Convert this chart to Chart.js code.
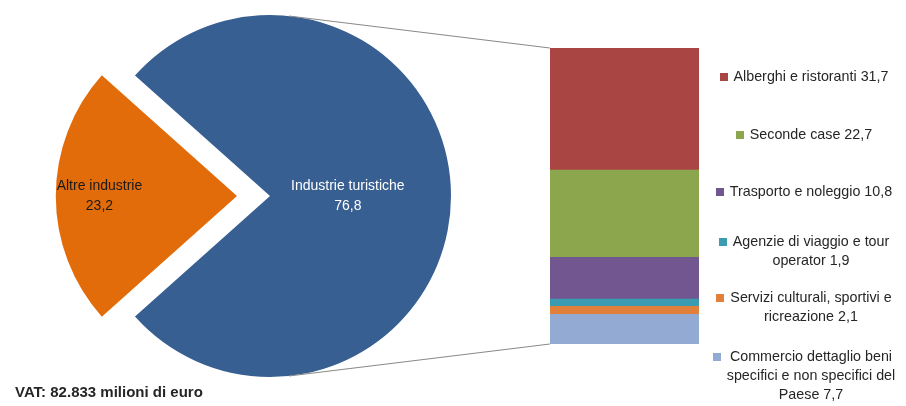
<!DOCTYPE html>
<html>
<head>
<meta charset="utf-8">
<script src="https://cdn.jsdelivr.net/npm/chart.js@4.4.1/dist/chart.umd.min.js"></script>
<style>
  body { margin: 0; background: #fff; font-family: "Liberation Sans", Arial, sans-serif; }
  #wrap { position: relative; width: 906px; height: 406px; overflow: hidden; }
  #pieChart { position: absolute; left: 0; top: 0; }
  #barChart { position: absolute; left: 550px; top: 48px; }
  #vat { position: absolute; left: 15px; top: 383px; font-weight: bold; font-size: 15px; color: #262626; }
  .item { position: absolute; left: 707px; width: 194px; display: flex; justify-content: center; align-items: flex-start;
          font-size: 14.3px; line-height: 19px; color: #262626; }
  .sw { width: 8px; height: 8px; margin: 6px 6px 0 0; flex: none; }
  .txt { text-align: center; white-space: nowrap; }
  .item:nth-of-type(1) { top: 67px; }
  .item:nth-of-type(2) { top: 125px; }
  .item:nth-of-type(3) { top: 182px; }
  .item:nth-of-type(4) { top: 232px; }
  .item:nth-of-type(5) { top: 288px; }
  .item:nth-of-type(6) { top: 347px; }
</style>
</head>
<body>
<div id="wrap">
  <canvas id="pieChart" width="906" height="406"></canvas>
  <canvas id="barChart" width="149" height="296"></canvas>
  <div id="legend"></div>
  <div id="vat">VAT: 82.833 milioni di euro</div>
</div>
<script>
// pie: share of value added (%)
const PIE_LABELS = ['Altre industrie', 'Industrie turistiche'];
const PIE_VALUES = [23.2, 76.8];
const PIE_COLORS = ['#E36C0A', '#375F92'];
const PIE_TEXT = ['#1a1a1a', '#ffffff'];

// breakdown of tourism industries, top to bottom as in the legend
const BREAKDOWN_LABELS = [
  ['Alberghi e ristoranti'],
  ['Seconde case'],
  ['Trasporto e noleggio'],
  ['Agenzie di viaggio e tour', 'operator'],
  ['Servizi culturali, sportivi e', 'ricreazione'],
  ['Commercio dettaglio beni', 'specifici e non specifici del', 'Paese'],
];
const BREAKDOWN_VALUES = [31.7, 22.7, 10.8, 1.9, 2.1, 7.7];
const BREAKDOWN_COLORS = ['#A94543', '#8BA64D', '#71568F', '#3A9BB1', '#E0803A', '#93AAD3'];

const fmt = (v) => v.toFixed(1).replace('.', ',');
const sum = (a) => a.reduce((s, v) => s + v, 0);

// legend (html, multi-line centred like the original)
const legendEl = document.getElementById('legend');
BREAKDOWN_LABELS.forEach((lines, i) => {
  const item = document.createElement('div');
  item.className = 'item';
  const text = lines.slice(0, -1).concat(lines[lines.length - 1] + ' ' + fmt(BREAKDOWN_VALUES[i]));
  item.innerHTML = `<span class="sw" style="background:${BREAKDOWN_COLORS[i]}"></span><span class="txt">${text.join('<br>')}</span>`;
  legendEl.appendChild(item);
});

// stacked bar: first dataset sits at the bottom, so reverse the legend order
const order = BREAKDOWN_VALUES.map((_, i) => i).reverse();
const barChart = new Chart(document.getElementById('barChart'), {
  type: 'bar',
  data: {
    labels: [''],
    datasets: order.map((i) => ({
      label: BREAKDOWN_LABELS[i].join(' '),
      data: [BREAKDOWN_VALUES[i]],
      backgroundColor: BREAKDOWN_COLORS[i],
      borderWidth: 0,
      barPercentage: 1,
      categoryPercentage: 1,
    })),
  },
  options: {
    responsive: false,
    animation: false,
    events: [],
    layout: { padding: 0 },
    plugins: { legend: { display: false }, tooltip: { enabled: false } },
    scales: {
      x: { stacked: true, display: false },
      y: { stacked: true, display: false, min: 0, max: sum(BREAKDOWN_VALUES) },
    },
  },
});

// explode distance in px; ArcElement only moves a slice by offset / 4
const EXPLODE = 33;
const LABEL_DIST = [0.76, 0.43];
const pieLabels = {
  id: 'pieLabels',
  afterDatasetsDraw(chart) {
    const ctx = chart.ctx;
    chart.getDatasetMeta(0).data.forEach((arc, i) => {
      const mid = (arc.startAngle + arc.endAngle) / 2;
      const d = (arc.options.offset || 0) / 4 + arc.outerRadius * LABEL_DIST[i];
      const x = arc.x + Math.cos(mid) * d;
      const y = arc.y + Math.sin(mid) * d;
      ctx.save();
      ctx.font = '14px "Liberation Sans", Arial, sans-serif';
      ctx.fillStyle = PIE_TEXT[i];
      ctx.textAlign = 'center';
      ctx.textBaseline = 'middle';
      ctx.fillText(PIE_LABELS[i], x, y - 10);
      ctx.fillText(fmt(PIE_VALUES[i]), x, y + 10);
      ctx.restore();
    });
  },
};

// lines from the pie to the breakdown bar
const connectors = {
  id: 'connectors',
  afterDraw(chart) {
    const arc = chart.getDatasetMeta(0).data[1];
    const metas = barChart.getSortedVisibleDatasetMetas();
    const topEl = metas[metas.length - 1].data[0];
    const botEl = metas[0].data[0];
    const ox = barChart.canvas.offsetLeft;
    const oy = barChart.canvas.offsetTop;
    const bx = ox + topEl.x - topEl.width / 2;
    const a = 84 * Math.PI / 180;
    const ctx = chart.ctx;
    ctx.save();
    ctx.strokeStyle = '#8a8a8a';
    ctx.lineWidth = 1.2;
    ctx.beginPath();
    ctx.moveTo(arc.x + Math.cos(-a) * arc.outerRadius, arc.y + Math.sin(-a) * arc.outerRadius);
    ctx.lineTo(bx, oy + topEl.y);
    ctx.moveTo(arc.x + Math.cos(a) * arc.outerRadius, arc.y + Math.sin(a) * arc.outerRadius);
    ctx.lineTo(bx, oy + botEl.base);
    ctx.stroke();
    ctx.restore();
  },
};

const slice0 = PIE_VALUES[0] / sum(PIE_VALUES) * 360;
new Chart(document.getElementById('pieChart'), {
  type: 'pie',
  data: {
    labels: PIE_LABELS,
    datasets: [{
      data: PIE_VALUES,
      backgroundColor: PIE_COLORS,
      borderWidth: 0,
      offset: [EXPLODE * 4, 0],
    }],
  },
  options: {
    responsive: false,
    animation: false,
    events: [],
    radius: 181,
    rotation: 270 - slice0 / 2,
    layout: { padding: { left: 89, right: 455, top: 15, bottom: 29 } },
    plugins: { legend: { display: false }, tooltip: { enabled: false } },
  },
  plugins: [pieLabels, connectors],
});
</script>
</body>
</html>
